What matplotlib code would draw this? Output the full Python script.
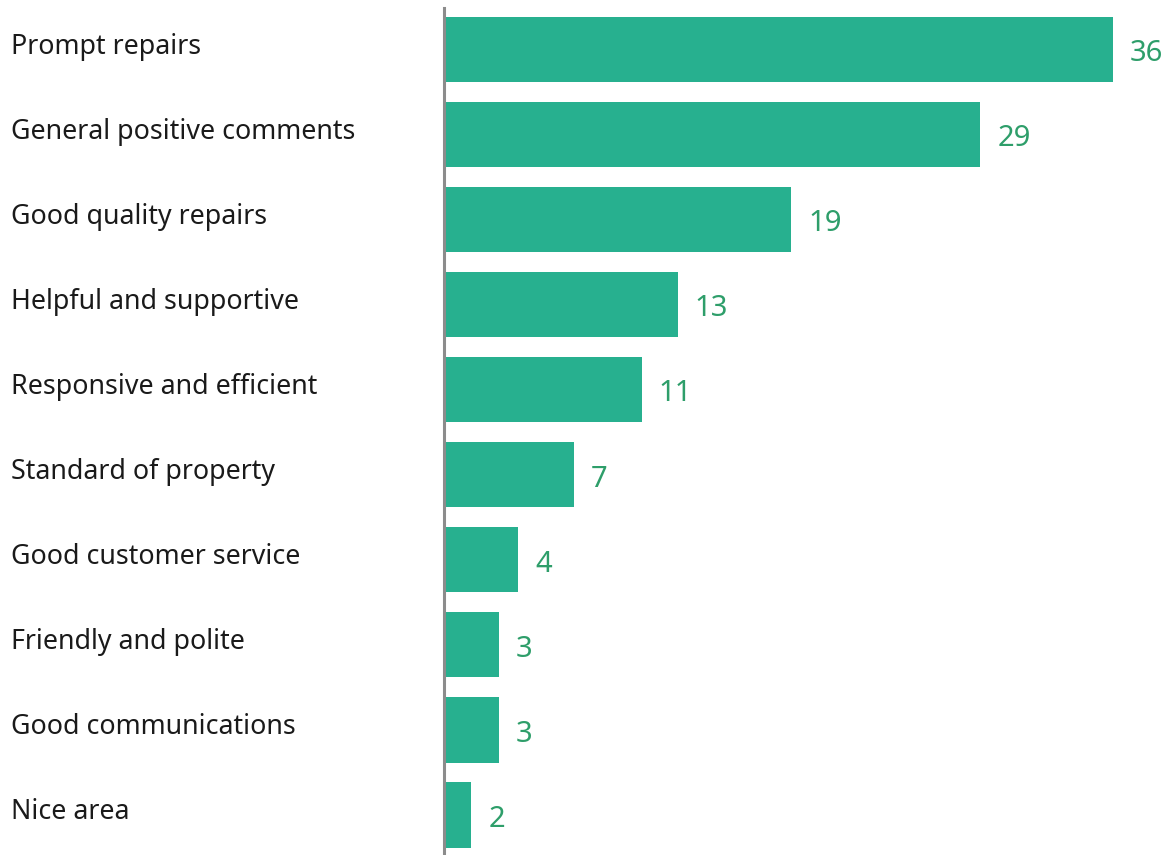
import matplotlib.pyplot as plt
import matplotlib.transforms as mtransforms

categories = ['Prompt repairs', 'General positive comments', 'Good quality repairs',
              'Helpful and supportive', 'Responsive and efficient', 'Standard of property',
              'Good customer service', 'Friendly and polite', 'Good communications',
              'Nice area']
# bar lengths (unrounded), and the rounded labels shown
values = [35.97, 28.87, 18.7, 12.6, 10.65, 7.0, 4.03, 3.0, 3.0, 1.5]
labels = ['36', '29', '19', '13', '11', '7', '4', '3', '3', '2']

plt.rcParams['font.family'] = ['Noto Sans', 'DejaVu Sans']

fig = plt.figure(figsize=(11.74, 8.55), dpi=100)
ax = fig.add_axes([443.5 / 1174, 0, 1 - 443.5 / 1174, (855 - 8) / 855])

ypos = list(range(len(categories)))
ax.barh(ypos, values, height=0.765, color='#27B08F')

for y, v, lab in zip(ypos, values, labels):
    ax.text(v + 0.9, y + 0.05, lab, ha='left', va='center',
            fontsize=21, color='#2E9E6A')

trans = mtransforms.blended_transform_factory(fig.transFigure, ax.transData)
for y, c in zip(ypos, categories):
    ax.text(11 / 1174, y - 0.03, c, transform=trans, ha='left', va='center',
            fontsize=19.3, color='#1a1a1a')

ax.set_xlim(0, (1174 - 443.5) / 18.6)
ax.set_ylim(9.47, -0.488)
ax.set_xticks([])
ax.set_yticks([])
for s in ['top', 'right', 'bottom']:
    ax.spines[s].set_visible(False)
ax.spines['left'].set_color('#8C8C8C')
ax.spines['left'].set_linewidth(2.2)

fig.savefig('out.png', dpi=100, facecolor='white')
